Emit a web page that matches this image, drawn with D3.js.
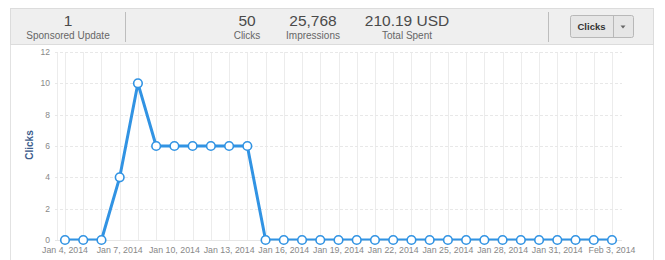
<!DOCTYPE html>
<html>
<head>
<meta charset="utf-8">
<script src="https://cdn.jsdelivr.net/npm/d3@7"></script>
<style>
  body { margin: 0; background: #fff; }
  svg text { font-family: "Liberation Sans", Arial, sans-serif; }
</style>
</head>
<body>
<svg width="665" height="260"></svg>
<script>
// daily clicks, Jan 4 .. Feb 3 2014
var days = ["2014-01-04","2014-01-05","2014-01-06","2014-01-07","2014-01-08","2014-01-09",
  "2014-01-10","2014-01-11","2014-01-12","2014-01-13","2014-01-14","2014-01-15","2014-01-16",
  "2014-01-17","2014-01-18","2014-01-19","2014-01-20","2014-01-21","2014-01-22","2014-01-23",
  "2014-01-24","2014-01-25","2014-01-26","2014-01-27","2014-01-28","2014-01-29","2014-01-30",
  "2014-01-31","2014-02-01","2014-02-02","2014-02-03"]
var clicks = [0,0,0,4,10,6,6,6,6,6,6,0,0,0,0,0,0,0,0,0,0,0,0,0,0,0,0,0,0,0,0]
var tickDays = ["2014-01-04","2014-01-07","2014-01-10","2014-01-13","2014-01-16","2014-01-19",
  "2014-01-22","2014-01-25","2014-01-28","2014-01-31","2014-02-03"]
var yTicks = [0,2,4,6,8,10,12]

var stats = [
  { value: "1", label: "Sponsored Update", x: 68 },
  { value: "50", label: "Clicks", x: 247 },
  { value: "25,768", label: "Impressions", x: 313 },
  { value: "210.19 USD", label: "Total Spent", x: 407 }
]

var parse = d3.utcParse("%Y-%m-%d")
var fmt = d3.utcFormat("%b %-d, %Y")
var data = days.map(function(d, i) { return { date: parse(d), v: clicks[i] } })

var svg = d3.select("svg")

// outer frame + header strip
svg.append("rect").attr("x", 10.5).attr("y", 8.5).attr("width", 643).attr("height", 260)
  .attr("fill", "#fff").attr("stroke", "#e2e2e2")
svg.append("rect").attr("x", 10.5).attr("y", 8.5).attr("width", 643).attr("height", 36)
  .attr("fill", "#efefef").attr("stroke", "#dcdcdc")
svg.selectAll("line.sep").data([125.5, 548.5]).enter().append("line")
  .attr("x1", d => d).attr("x2", d => d).attr("y1", 12).attr("y2", 42)
  .attr("stroke", "#bdbdbd")

var st = svg.selectAll("g.stat").data(stats).enter().append("g")
  .attr("transform", d => "translate(" + d.x + ",0)")
st.append("text").attr("y", 26).attr("text-anchor", "middle")
  .attr("font-size", 15.5).attr("fill", "#4a4a4a").text(d => d.value)
st.append("text").attr("y", 39).attr("text-anchor", "middle")
  .attr("font-size", 10).attr("fill", "#666").text(d => d.label)

// dropdown button
var btn = svg.append("g")
btn.append("rect").attr("x", 570.5).attr("y", 15.5).attr("width", 63).attr("height", 22).attr("rx", 2)
  .attr("fill", "#e6e6e6").attr("stroke", "#b8b8b8")
btn.append("line").attr("x1", 613.5).attr("x2", 613.5).attr("y1", 16).attr("y2", 37).attr("stroke", "#b8b8b8")
btn.append("text").attr("x", 591.5).attr("y", 30).attr("text-anchor", "middle")
  .attr("font-size", 9.5).attr("font-weight", "bold").attr("fill", "#333").text("Clicks")
btn.append("path").attr("d", "M620.5,25.5 h5 l-2.5,3 z").attr("fill", "#666")

// chart
var x = d3.scaleUtc().domain([parse(days[0]), parse(days[days.length - 1])]).range([65, 612])
var y = d3.scaleLinear().domain([0, 12]).range([240, 52])
var left = 55, right = 622

var grid = svg.append("g")
grid.selectAll("line.v").data([null].concat(data)).enter().append("line")
  .attr("x1", d => d ? Math.round(x(d.date)) + 0.5 : left + 2.5)
  .attr("x2", d => d ? Math.round(x(d.date)) + 0.5 : left + 2.5)
  .attr("y1", y(12)).attr("y2", y(0))
  .attr("stroke", "#ececec")
grid.selectAll("line.h").data(yTicks).enter().append("line")
  .attr("x1", left).attr("x2", right)
  .attr("y1", d => Math.round(y(d)) + 0.5).attr("y2", d => Math.round(y(d)) + 0.5)
  .attr("stroke", d => d === 0 ? "#e6e6e6" : "#e8e8e8")
  .attr("stroke-dasharray", d => d === 0 ? null : "3,2")

svg.append("g").selectAll("text").data(yTicks).enter().append("text")
  .attr("x", 50).attr("y", d => y(d) + 3).attr("text-anchor", "end")
  .attr("font-size", 8.5).attr("fill", "#888").text(d => d)

svg.append("g").selectAll("text").data(tickDays).enter().append("text")
  .attr("x", d => x(parse(d))).attr("y", 253).attr("text-anchor", "middle")
  .attr("font-size", 8.8).attr("fill", "#888").text(d => fmt(parse(d)))

svg.append("text").attr("transform", "translate(33,145) rotate(-90)")
  .attr("text-anchor", "middle").attr("font-size", 10).attr("font-weight", "bold")
  .attr("fill", "#3d5d8c").text("Clicks")

svg.append("clipPath").attr("id", "plot").append("rect")
  .attr("x", 0).attr("y", 40).attr("width", 665).attr("height", y(0) - 40 + 0.5)

var line = d3.line().x(d => x(d.date)).y(d => y(d.v))
svg.append("path").datum(data).attr("d", line).attr("clip-path", "url(#plot)")
  .attr("fill", "none").attr("stroke", "#3193e3").attr("stroke-width", 3)
  .attr("stroke-linejoin", "round")

svg.append("g").selectAll("circle").data(data).enter().append("circle")
  .attr("cx", d => x(d.date)).attr("cy", d => y(d.v)).attr("r", 4.3)
  .attr("fill", "#fff").attr("stroke", "#3193e3").attr("stroke-width", 1.6)
</script>
</body>
</html>
